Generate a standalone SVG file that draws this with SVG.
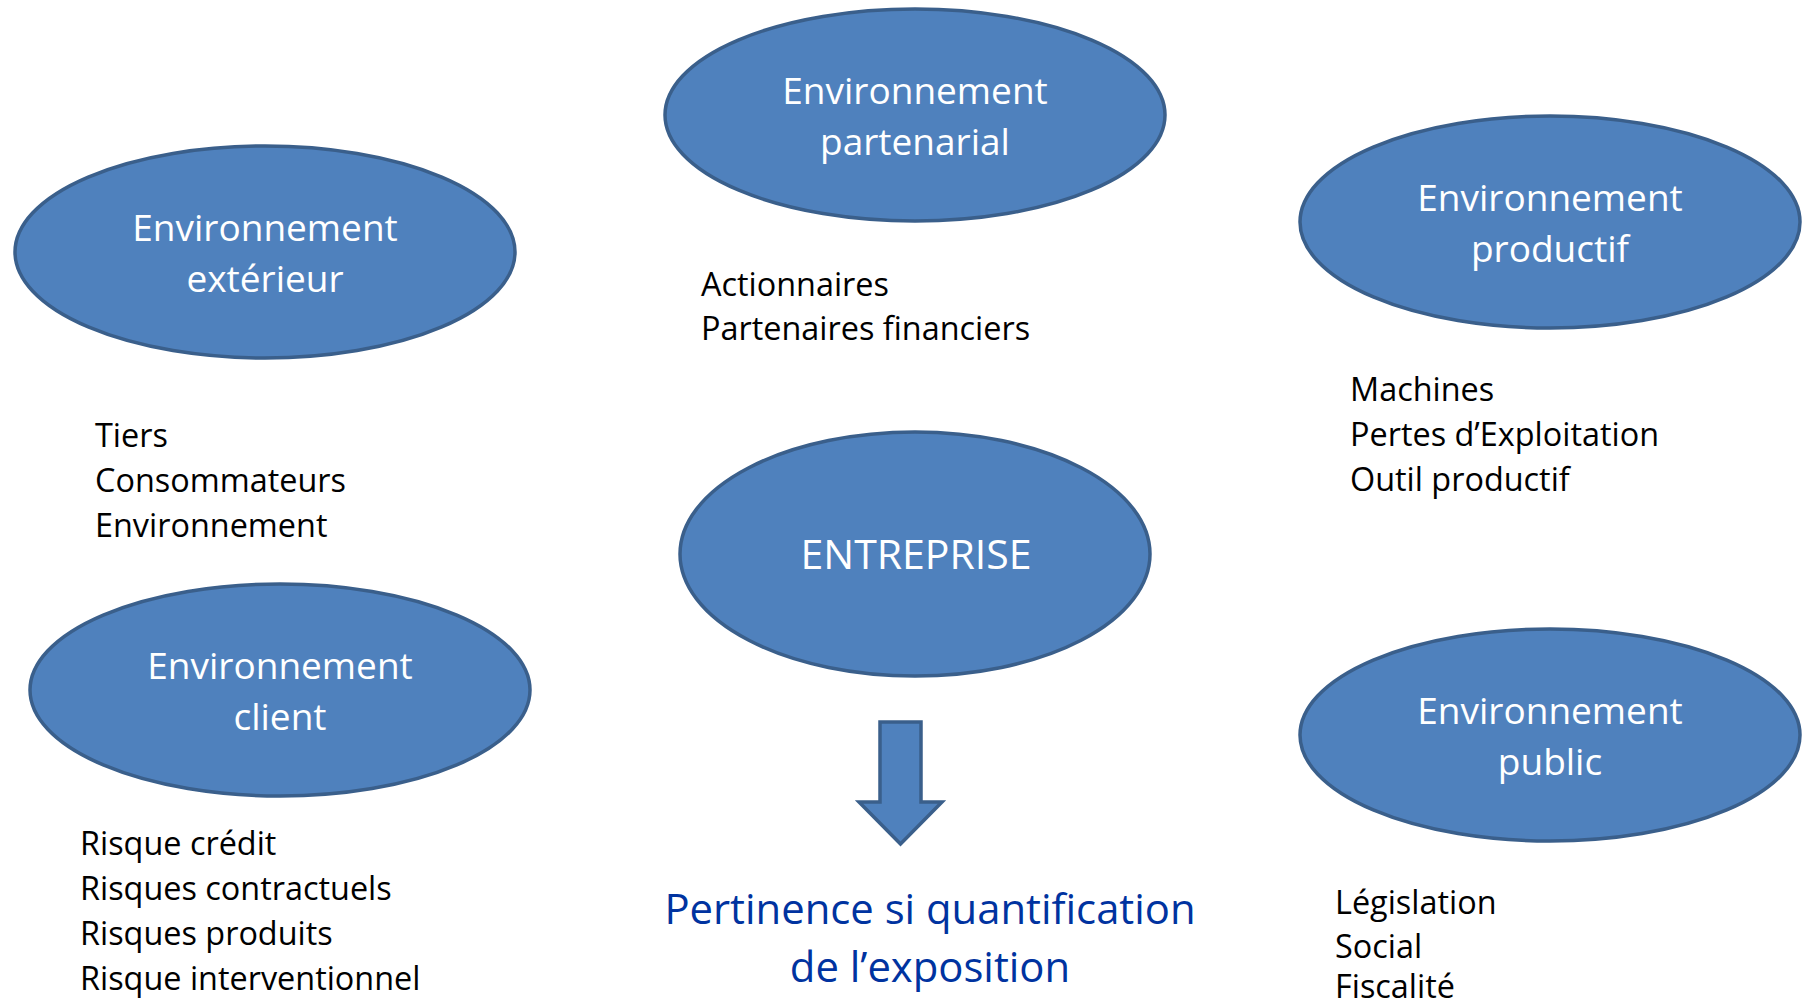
<svg xmlns="http://www.w3.org/2000/svg" width="1802" height="1008" viewBox="0 0 1802 1008">
<style>
.node ellipse{fill:#4F81BD;stroke:#3A5F8B;stroke-width:3.5}
.lbl{font-family:"Open Sans","Noto Sans",sans-serif;font-size:37px;fill:#FFFFFF;text-anchor:middle}
.big{font-size:41px}
.lst{font-family:"Open Sans","Noto Sans",sans-serif;font-size:32.4px;fill:#000000}
.blue{font-family:"Open Sans","Noto Sans",sans-serif;font-size:41.8px;fill:#0033A0;text-anchor:middle}
.arrow{fill:#4F81BD;stroke:#3A5F8B;stroke-width:3.5;stroke-linejoin:miter}
</style>
<rect width="1802" height="1008" fill="#FFFFFF"/>
<g id="node-partenarial" class="node">
<ellipse cx="915" cy="115" rx="250" ry="106"/>
<text class="lbl" x="915" y="104">Environnement</text>
<text class="lbl" x="915" y="155">partenarial</text>
</g>
<g id="node-exterieur" class="node">
<ellipse cx="265" cy="252" rx="250" ry="106"/>
<text class="lbl" x="265" y="241">Environnement</text>
<text class="lbl" x="265" y="292">extérieur</text>
</g>
<g id="node-productif" class="node">
<ellipse cx="1550" cy="222" rx="250" ry="106"/>
<text class="lbl" x="1550" y="211">Environnement</text>
<text class="lbl" x="1550" y="262">productif</text>
</g>
<g id="node-entreprise" class="node">
<ellipse cx="915" cy="554" rx="235" ry="122"/>
<text class="lbl big" x="916" y="569">ENTREPRISE</text>
</g>
<g id="node-client" class="node">
<ellipse cx="280" cy="690" rx="250" ry="106"/>
<text class="lbl" x="280" y="679">Environnement</text>
<text class="lbl" x="280" y="730">client</text>
</g>
<g id="node-public" class="node">
<ellipse cx="1550" cy="735" rx="250" ry="106"/>
<text class="lbl" x="1550" y="724">Environnement</text>
<text class="lbl" x="1550" y="775">public</text>
</g>
<g id="list-partenarial">
<text class="lst" x="701" y="296">Actionnaires</text>
<text class="lst" x="701" y="340">Partenaires financiers</text>
</g>
<g id="list-exterieur">
<text class="lst" x="95" y="447">Tiers</text>
<text class="lst" x="95" y="492">Consommateurs</text>
<text class="lst" x="95" y="537">Environnement</text>
</g>
<g id="list-productif">
<text class="lst" x="1350" y="401">Machines</text>
<text class="lst" x="1350" y="446">Pertes d’Exploitation</text>
<text class="lst" x="1350" y="491">Outil productif</text>
</g>
<g id="list-client">
<text class="lst" x="80" y="855">Risque crédit</text>
<text class="lst" x="80" y="900">Risques contractuels</text>
<text class="lst" x="80" y="945">Risques produits</text>
<text class="lst" x="80" y="990">Risque interventionnel</text>
</g>
<g id="list-public">
<text class="lst" x="1335" y="914">Législation</text>
<text class="lst" x="1335" y="958">Social</text>
<text class="lst" x="1335" y="998">Fiscalité</text>
</g>
<g id="connectors">
<polygon class="arrow" points="880,722 921,722 921,802 942,802 900.5,844 859,802 880,802"/>
</g>
<g id="conclusion">
<text class="blue" x="930" y="924">Pertinence si quantification</text>
<text class="blue" x="930" y="982">de l’exposition</text>
</g>
</svg>
